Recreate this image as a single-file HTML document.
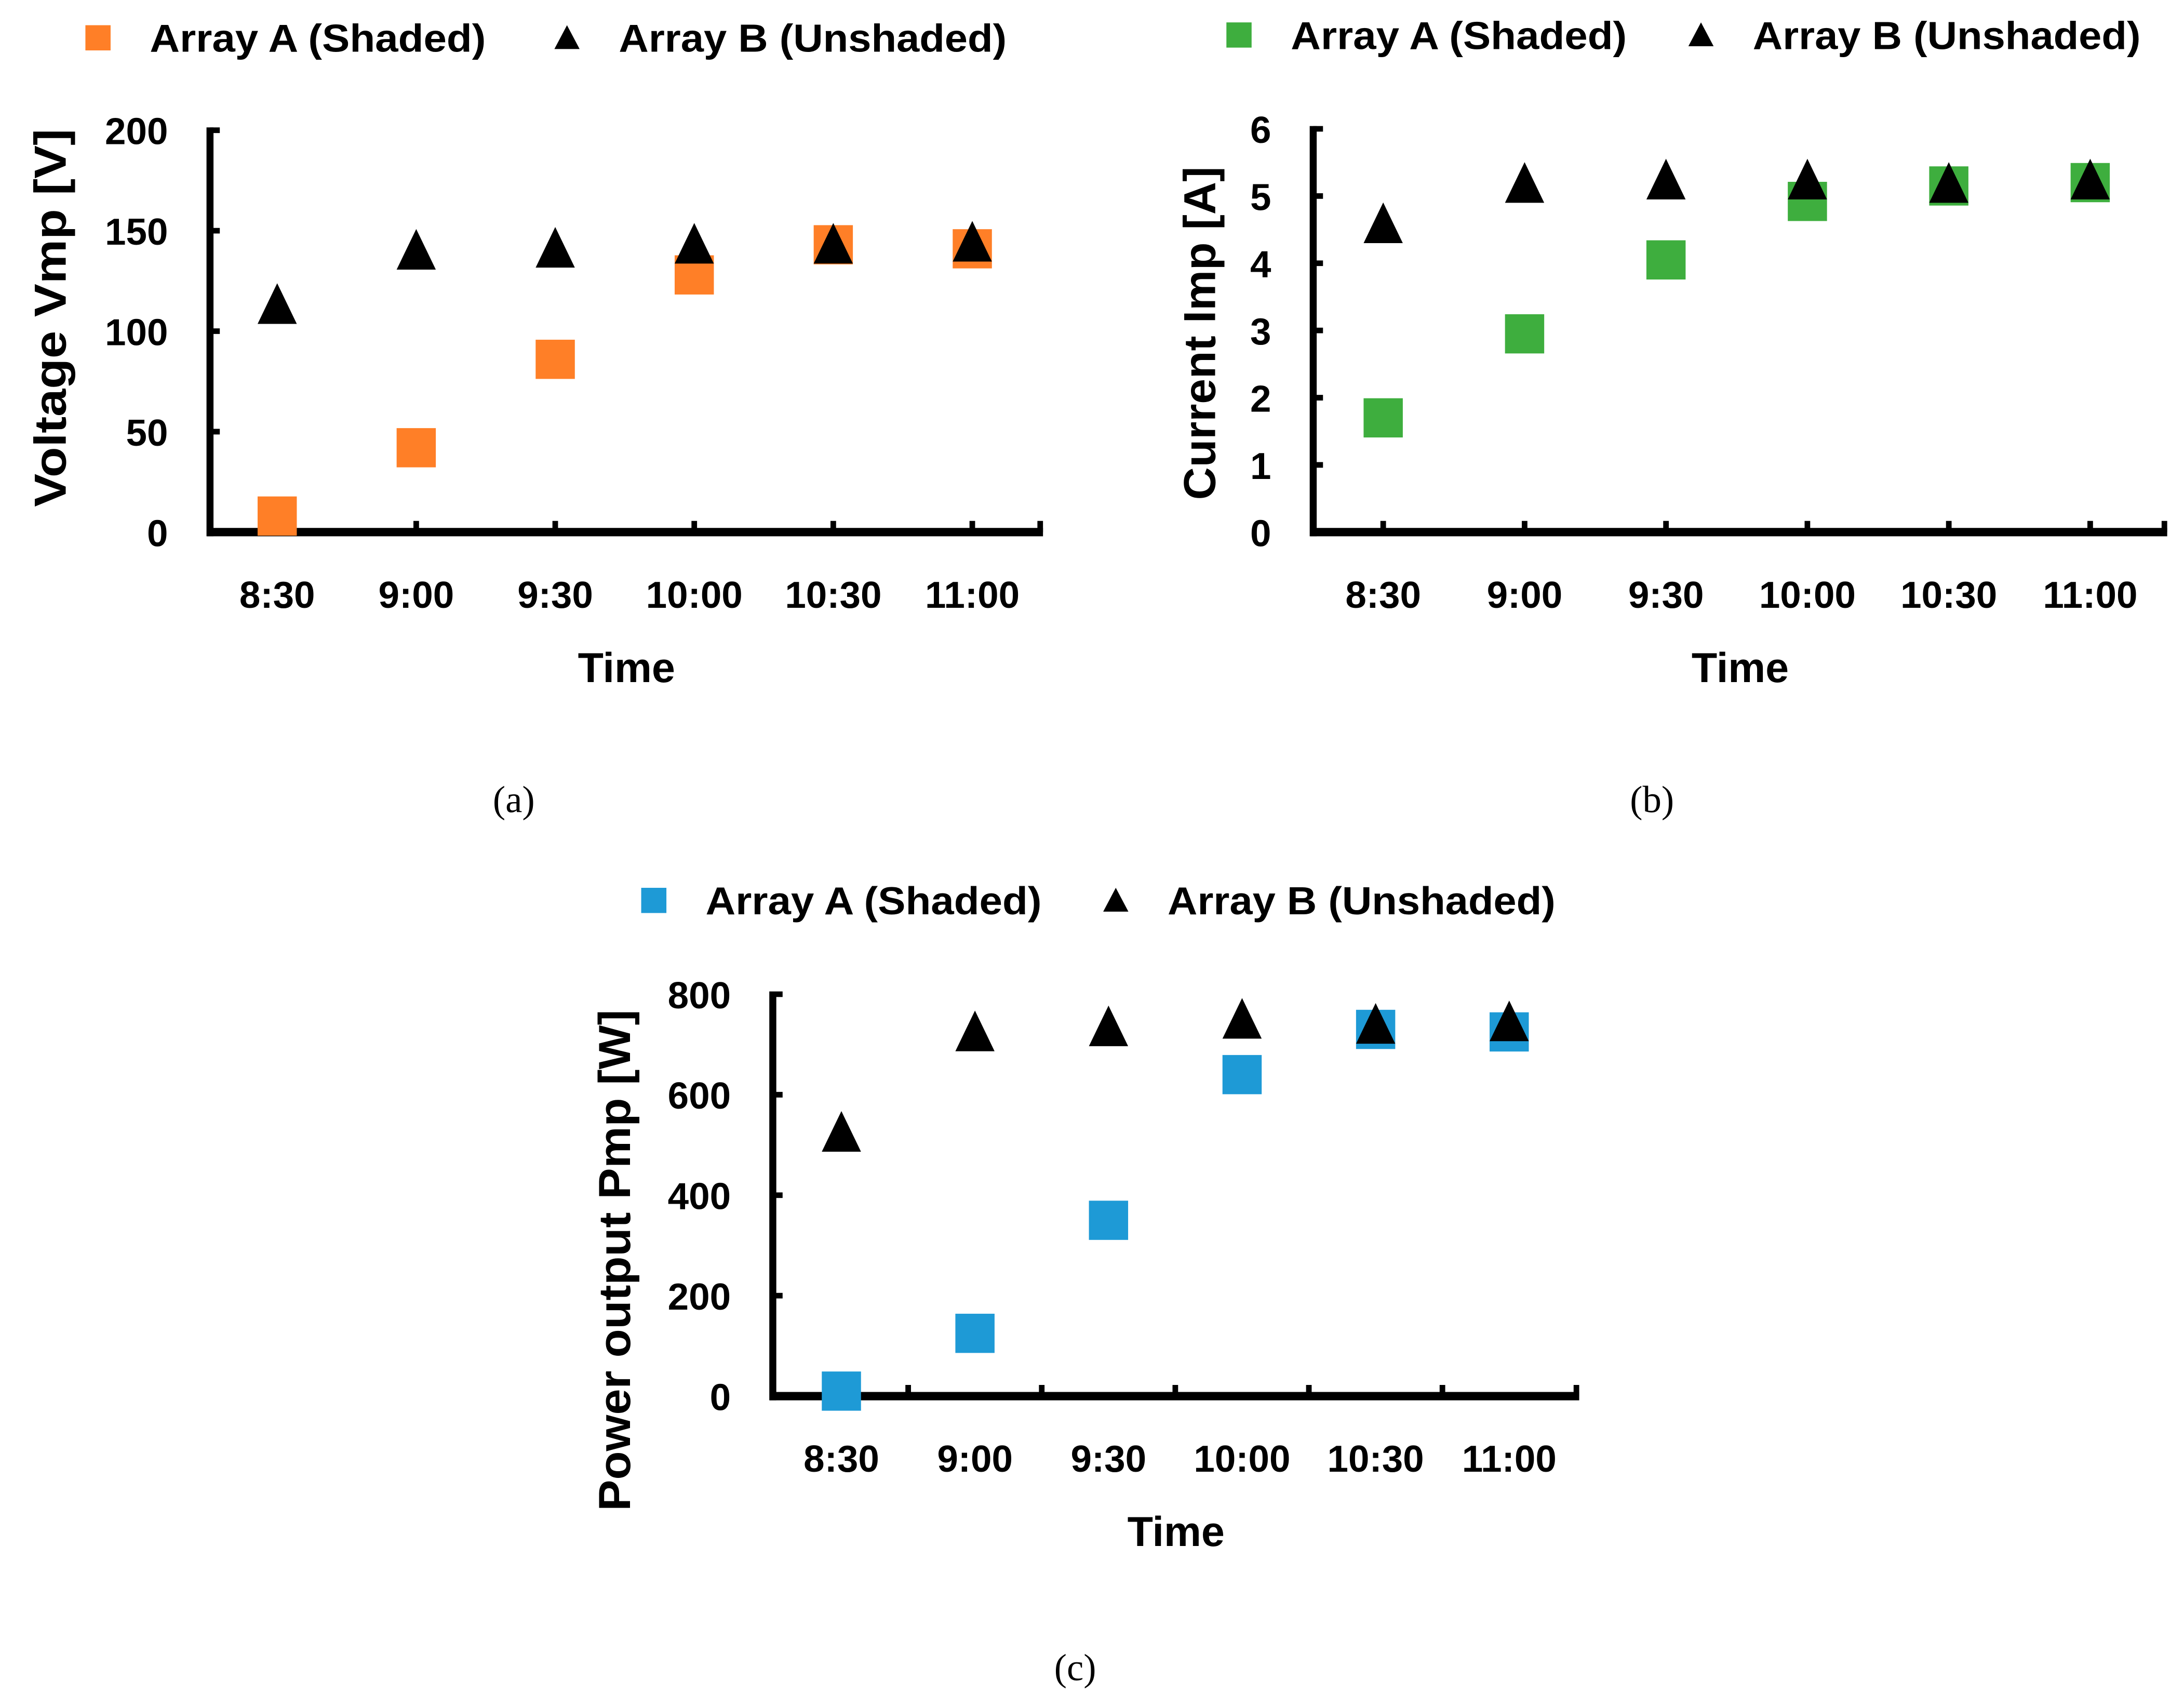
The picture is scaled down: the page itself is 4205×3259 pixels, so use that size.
<!DOCTYPE html>
<html><head><meta charset="utf-8"><style>
html,body{margin:0;padding:0;background:#fff;}
svg{display:block;}
text{font-family:"Liberation Sans",sans-serif;font-weight:bold;fill:#000;}
.cap{font-family:"Liberation Serif",serif;font-weight:normal;}
</style></head><body>
<svg id="fig" width="4205" height="3259" viewBox="0 0 1560 1209" preserveAspectRatio="none" xmlns="http://www.w3.org/2000/svg">
<text class="cap" x="367" y="580" font-size="27" text-anchor="middle">(a)</text>
<text class="cap" x="1180" y="580" font-size="27" text-anchor="middle">(b)</text>
<text class="cap" x="768" y="1200" font-size="27" text-anchor="middle">(c)</text>
</svg>
<script>
const categories = ["8:30","9:00","9:30","10:00","10:30","11:00"];
const voltageA = [8, 42, 86, 128, 143, 141];
const voltageB = [112, 139, 140, 142, 142, 143];
const voltageTicks = [0, 50, 100, 150, 200];
const currentA = [1.7, 2.95, 4.05, 4.92, 5.15, 5.2];
const currentB = [4.55, 5.15, 5.2, 5.2, 5.15, 5.2];
const currentTicks = [0, 1, 2, 3, 4, 5, 6];
const powerA = [10, 125, 350, 640, 730, 725];
const powerB = [520, 720, 730, 745, 735, 740];
const powerTicks = [0, 200, 400, 600, 800];

const svg = document.getElementById('fig');
const NS = 'http://www.w3.org/2000/svg';
function mk(tag, attrs, parent){
  const e = document.createElementNS(NS, tag);
  for (const k in attrs) e.setAttribute(k, attrs[k]);
  (parent||svg).appendChild(e); return e;
}

function panel(cfg){
  const g = mk('g', {});
  
  
  const yS = v => cfg.y0 - (v - cfg.vmin) / (cfg.vmax - cfg.vmin) * (cfg.y0 - cfg.y1);
  const xS = i => cfg.cx0 + i * cfg.dx;
  const ls = mk('rect', {x: cfg.lx - 9, y: cfg.ly - 9, width: 18, height: 18, fill: cfg.color}, g);
  
  
  const lt1 = mk('text', {x: cfg.lx + 37, y: cfg.ly + 10, 'font-size': 28, textLength: 240, lengthAdjust: 'spacingAndGlyphs'}, g);
  lt1.textContent = 'Array A (Shaded)';
  
  
  const tx = cfg.lx + cfg.lgap;
  const lt = mk('polygon', {points: `${tx-9},${cfg.ly+8} ${tx+9},${cfg.ly+8} ${tx},${cfg.ly-9}`, fill: '#000'}, g);
  
  
  const lt2 = mk('text', {x: tx + 37, y: cfg.ly + 10, 'font-size': 28, textLength: 277, lengthAdjust: 'spacingAndGlyphs'}, g);
  lt2.textContent = 'Array B (Unshaded)';
  
  
  const ya = mk('line', {x1: cfg.ax, y1: cfg.y1 - 2, x2: cfg.ax, y2: cfg.y0 + 3, stroke: '#000', 'stroke-width': 5}, g);
  
  
  const xa = mk('line', {x1: cfg.ax - 2, y1: cfg.y0, x2: cfg.xend, y2: cfg.y0, stroke: '#000', 'stroke-width': 6}, g);
  
  
  cfg.ticks.forEach(v => {
    const y = yS(v);
    const t = mk('line', {x1: cfg.ax, y1: y, x2: cfg.ax + 7, y2: y, stroke: '#000', 'stroke-width': 4}, g);
    
    
    const tl = mk('text', {x: cfg.ax - 30, y: y + 10, 'font-size': 27, 'text-anchor': 'end'}, g);
    tl.textContent = v;
    
    
  });
  categories.forEach((c, i) => {
    const tx2 = xS(i) + cfg.tickOff;
    if (tx2 < cfg.xend - 10) {
      const t = mk('line', {x1: tx2, y1: cfg.y0, x2: tx2, y2: cfg.y0 - 8, stroke: '#000', 'stroke-width': 4}, g);
      
      
    }
    const tl = mk('text', {x: xS(i), y: cfg.y0 + 54, 'font-size': 27, 'text-anchor': 'middle'}, g);
    tl.textContent = c;
    
    
  });
  const et = mk('line', {x1: cfg.xend - 2, y1: cfg.y0, x2: cfg.xend - 2, y2: cfg.y0 - 8, stroke: '#000', 'stroke-width': 4}, g);
  
  
  const xt = mk('text', {x: (cfg.ax + cfg.xend) / 2, y: cfg.y0 + 107, 'font-size': 30, 'text-anchor': 'middle'}, g);
  xt.textContent = 'Time';
  
  
  const yt = mk('text', {x: 0, y: 0, 'font-size': 32, 'text-anchor': 'middle', textLength: cfg.ylen, lengthAdjust: 'spacingAndGlyphs', transform: `translate(${cfg.ytx},${cfg.yty}) rotate(-90)`}, g);
  yt.textContent = cfg.ytitle;
  
  
  cfg.a.forEach((v, i) => {
    const x = xS(i), y = yS(v);
    const r = mk('rect', {x: x - 14, y: y - 14, width: 28, height: 28, fill: cfg.color}, g);
    
    
  });
  cfg.b.forEach((v, i) => {
    const x = xS(i), y = yS(v);
    const p = mk('polygon', {points: `${x-14},${y+12} ${x+14},${y+12} ${x},${y-17}`, fill: '#000'}, g);
    
    
  });
}

panel({id:'voltage', color:'#FF7F27', a: voltageA, b: voltageB, ticks: voltageTicks, vmin:0, vmax:200,
  ax:150, y0:380, y1:93, xend:745, cx0:198, dx:99.3, tickOff:99.3,
  lx:70, ly:27, lgap:335, ytx:47, yty:227, ylen:270, ytitle:'Voltage Vmp [V]'});
panel({id:'current', color:'#3EAE3E', a: currentA, b: currentB, ticks: currentTicks, vmin:0, vmax:6,
  ax:938, y0:380, y1:92, xend:1548, cx0:988, dx:101, tickOff:0,
  lx:885, ly:25, lgap:330, ytx:868, yty:238, ylen:238, ytitle:'Current Imp [A]'});
panel({id:'power', color:'#1E9AD6', a: powerA, b: powerB, ticks: powerTicks, vmin:0, vmax:800,
  ax:552, y0:997, y1:710, xend:1128, cx0:601, dx:95.4, tickOff:47.7,
  lx:467, ly:643, lgap:330, ytx:450, yty:900, ylen:358, ytitle:'Power output Pmp [W]'});
</script>
</body></html>
